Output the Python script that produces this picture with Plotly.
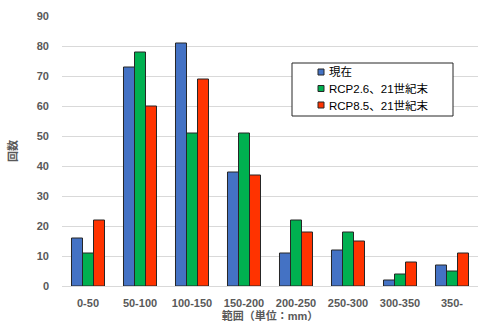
import plotly.graph_objects as go

categories = ["0-50", "50-100", "100-150", "150-200", "200-250", "250-300", "300-350", "350-"]
series_names = ["現在", "RCP2.6、21世紀末", "RCP8.5、21世紀末"]
current = [16, 73, 81, 38, 11, 12, 2, 7]
rcp26 = [11, 78, 51, 51, 22, 18, 4, 5]
rcp85 = [22, 60, 69, 37, 18, 15, 8, 11]
y_ticks = [0, 10, 20, 30, 40, 50, 60, 70, 80, 90]

colors = ["#4472C4", "#00B050", "#FF3300"]
FONT = "Liberation Sans, Noto Sans CJK JP, sans-serif"

W, H = 478, 322
ML, MR, MT, MB = 62, 0, 16, 36
PW, PH = W - ML - MR, H - MT - MB


def px(xp):
    return (xp - ML) / PW


def py(yp):
    return (H - MB - yp) / PH


fig = go.Figure()
for name, vals, col in zip(series_names, [current, rcp26, rcp85], colors):
    fig.add_trace(go.Bar(
        x=categories, y=vals, name=name, showlegend=False,
        marker=dict(color=col, line=dict(color="#262626", width=1)),
    ))

# manual legend (box, swatches, labels)
shapes = [dict(type="rect", xref="paper", yref="paper",
               x0=px(292), x1=px(453), y0=py(63), y1=py(116),
               line=dict(color="#262626", width=1), fillcolor="white", layer="above")]
annotations = []
row_y = [72, 88.5, 105]
for name, col, ry in zip(series_names, colors, row_y):
    shapes.append(dict(type="rect", xref="paper", yref="paper",
                       x0=px(318), x1=px(324), y0=py(ry + 3), y1=py(ry - 3),
                       line=dict(color="#262626", width=1), fillcolor=col, layer="above"))
    annotations.append(dict(text=name, xref="paper", yref="paper", x=px(327), y=py(ry),
                            xanchor="left", yanchor="middle", showarrow=False,
                            font=dict(size=11.5, color="#000000", family=FONT)))

fig.update_layout(
    width=W, height=H,
    margin=dict(l=ML, r=MR, t=MT, b=MB, autoexpand=False),
    paper_bgcolor="white", plot_bgcolor="white",
    barmode="group", bargap=0.365, bargroupgap=0,
    font=dict(family=FONT, color="#595959"),
    showlegend=False,
    shapes=shapes, annotations=annotations,
    xaxis=dict(
        showgrid=False, showline=True, linecolor="#D9D9D9", linewidth=1,
        ticks="", ticklabelstandoff=7, automargin=False,
        tickfont=dict(size=11, color="#595959", family=FONT, weight="bold"),
        title=dict(text="範囲（単位：mm）", font=dict(size=11, color="#595959", family=FONT, weight="bold"), standoff=1),
    ),
    yaxis=dict(
        range=[0, 90], tickvals=y_ticks, showgrid=True, gridcolor="#D9D9D9", gridwidth=1,
        zeroline=False, showline=False, ticks="", ticklabelstandoff=12, automargin=False,
        tickfont=dict(size=11, color="#595959", family=FONT, weight="bold"),
        title=dict(text="回数", font=dict(size=11, color="#595959", family=FONT, weight="bold"), standoff=16),
    ),
)

fig.write_html("out.html", config={"displayModeBar": False},
               post_script="document.body.style.margin='0';document.body.style.padding='0';")
